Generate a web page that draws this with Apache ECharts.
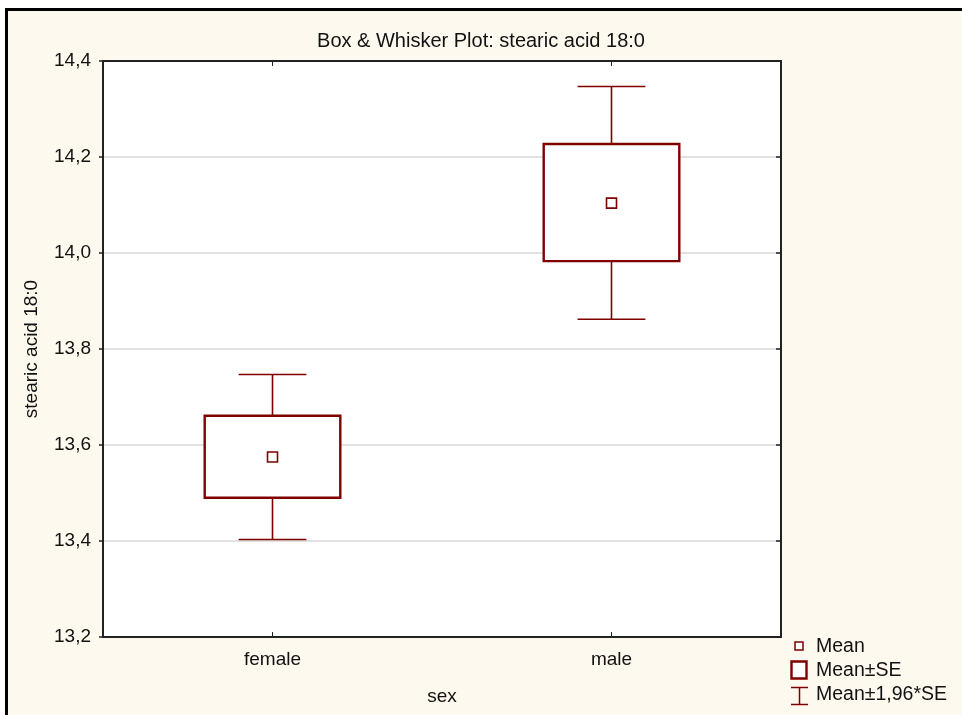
<!DOCTYPE html>
<html>
<head>
<meta charset="utf-8">
<script src="https://cdn.jsdelivr.net/npm/echarts@6/dist/echarts.min.js"></script>
<style>
html,body{margin:0;padding:0;background:#ffffff;}
#chart{width:962px;height:715px;}
</style>
</head>
<body>
<div id="chart"></div>
<script>
// ---- data ----
const categories = ['female', 'male'];
const meanValues = [13.575, 14.104];
const seLow = [13.490, 13.983];
const seHigh = [13.661, 14.227];
const ciLow = [13.403, 13.862];
const ciHigh = [13.747, 14.347];
const yTicks = [13.2, 13.4, 13.6, 13.8, 14.0, 14.2, 14.4];
const titleText = 'Box & Whisker Plot: stearic acid 18:0';
const yName = 'stearic acid 18:0';
const xName = 'sex';
const legendLabels = ['Mean', 'Mean±SE', 'Mean±1,96*SE'];

const FONT = '"Liberation Sans", Arial, sans-serif';
const FS = 19;
const RED = '#800000';
const rows = categories.map((c, i) => [i, ciLow[i], seLow[i], meanValues[i], seHigh[i], ciHigh[i]]);
const fmt = v => v.toFixed(1).replace('.', ',');

const chart = echarts.init(document.getElementById('chart'), null, {renderer: 'canvas'});

function renderWhisker(params, api) {
  const x = api.value(0);
  const band = api.size([1, 0])[0];
  const half = band * 0.1;
  const top = api.coord([x, api.value(5)]);
  const sTop = api.coord([x, api.value(4)]);
  const sBot = api.coord([x, api.value(2)]);
  const bot = api.coord([x, api.value(1)]);
  const style = {stroke: RED, lineWidth: 1.6, fill: null};
  return {
    type: 'group',
    children: [
      {type: 'line', shape: {x1: top[0] - half, y1: top[1], x2: top[0] + half, y2: top[1]}, style},
      {type: 'line', shape: {x1: top[0], y1: top[1], x2: sTop[0], y2: sTop[1]}, style},
      {type: 'line', shape: {x1: bot[0] - half, y1: bot[1], x2: bot[0] + half, y2: bot[1]}, style},
      {type: 'line', shape: {x1: bot[0], y1: bot[1], x2: sBot[0], y2: sBot[1]}, style}
    ]
  };
}
function renderBox(params, api) {
  const x = api.value(0);
  const band = api.size([1, 0])[0];
  const half = band * 0.2;
  const hi = api.coord([x, api.value(4)]);
  const lo = api.coord([x, api.value(2)]);
  return {
    type: 'rect',
    shape: {x: hi[0] - half, y: hi[1], width: half * 2, height: lo[1] - hi[1]},
    style: {stroke: RED, lineWidth: 2.4, fill: '#ffffff'}
  };
}
function renderMean(params, api) {
  const x = api.value(0);
  const m = api.coord([x, api.value(3)]);
  return {
    type: 'rect',
    shape: {x: m[0] - 5, y: m[1] - 5, width: 10, height: 10},
    style: {stroke: RED, lineWidth: 1.6, fill: '#ffffff'}
  };
}

const axisLine = {show: true, lineStyle: {color: '#222222', width: 2}};
const baseY = {
  type: 'value', min: 13.2, max: 14.4, interval: 0.2,
};

const option = {
  animation: false,
  backgroundColor: 'transparent',
  textStyle: {fontFamily: FONT},
  title: {
    text: titleText, left: 'center', top: 26,
    textStyle: {fontFamily: FONT, fontSize: 20, fontWeight: 'normal', color: '#111'}
  },
  grid: {left: 103, right: 181, top: 61, bottom: 78, show: true, backgroundColor: '#ffffff', borderWidth: 0},
  xAxis: [
    {
      type: 'category', data: categories, position: 'bottom', boundaryGap: true,
      name: xName, nameLocation: 'middle', nameGap: 50,
      nameTextStyle: {fontFamily: FONT, fontSize: FS, color: '#111'},
      axisLine,
      axisTick: {show: true, inside: true, alignWithLabel: true, length: 5, lineStyle: {color: '#222', width: 1}},
      axisLabel: {fontFamily: FONT, fontSize: FS, color: '#111', margin: 13},
      splitLine: {show: false}
    },
    {
      type: 'category', data: categories, position: 'top', boundaryGap: true,
      axisLine,
      axisTick: {show: true, inside: true, alignWithLabel: true, length: 5, lineStyle: {color: '#222', width: 1}},
      axisLabel: {show: false},
      splitLine: {show: false}
    }
  ],
  yAxis: [
    Object.assign({}, baseY, {
      position: 'left',
      name: yName, nameLocation: 'middle', nameGap: 62, nameRotate: 90,
      nameTextStyle: {fontFamily: FONT, fontSize: FS, color: '#111'},
      axisLine,
      axisTick: {show: true, inside: false, length: 4, lineStyle: {color: '#222', width: 1.5}},
      axisLabel: {fontFamily: FONT, fontSize: FS, color: '#111', margin: 12, formatter: v => fmt(v),
        customValues: yTicks},
      splitLine: {show: true, lineStyle: {color: '#d9d9d9', width: 1.5}}
    }),
    Object.assign({}, baseY, {
      position: 'right',
      axisLine,
      axisTick: {show: true, inside: true, length: 5, lineStyle: {color: '#222', width: 1.5}},
      axisLabel: {show: false},
      splitLine: {show: false}
    })
  ],
  graphic: [
    {type: 'rect', z: -10, silent: true, shape: {x: 6.5, y: 9.5, width: 1000, height: 800},
      style: {fill: '#fef9ee', stroke: '#000000', lineWidth: 3}},
    // legend
    {type: 'rect', shape: {x: 795, y: 642, width: 8, height: 8}, style: {fill: '#fff', stroke: RED, lineWidth: 1.5}},
    {type: 'text', x: 816, y: 647, style: {text: legendLabels[0], font: '19.5px ' + FONT, fill: '#111', textVerticalAlign: 'middle'}},
    {type: 'rect', shape: {x: 791.5, y: 661.5, width: 15, height: 17}, style: {fill: '#fff', stroke: RED, lineWidth: 2.4}},
    {type: 'text', x: 816, y: 671, style: {text: legendLabels[1], font: '19.5px ' + FONT, fill: '#111', textVerticalAlign: 'middle'}},
    {type: 'line', shape: {x1: 791, y1: 687.5, x2: 808, y2: 687.5}, style: {stroke: RED, lineWidth: 1.5}},
    {type: 'line', shape: {x1: 799.5, y1: 687.5, x2: 799.5, y2: 704.5}, style: {stroke: RED, lineWidth: 1.5}},
    {type: 'line', shape: {x1: 791, y1: 704.5, x2: 808, y2: 704.5}, style: {stroke: RED, lineWidth: 1.5}},
    {type: 'text', x: 816, y: 695, style: {text: legendLabels[2], font: '19.5px ' + FONT, fill: '#111', textVerticalAlign: 'middle'}}
  ],
  series: [
    {type: 'custom', name: legendLabels[2], renderItem: renderWhisker, data: rows, encode: {x: 0, y: [1, 2, 4, 5]}, z: 2},
    {type: 'custom', name: legendLabels[1], renderItem: renderBox, data: rows, encode: {x: 0, y: [2, 4]}, z: 3},
    {type: 'custom', name: legendLabels[0], renderItem: renderMean, data: rows, encode: {x: 0, y: 3}, z: 4}
  ]
};
chart.setOption(option);
</script>
</body>
</html>
